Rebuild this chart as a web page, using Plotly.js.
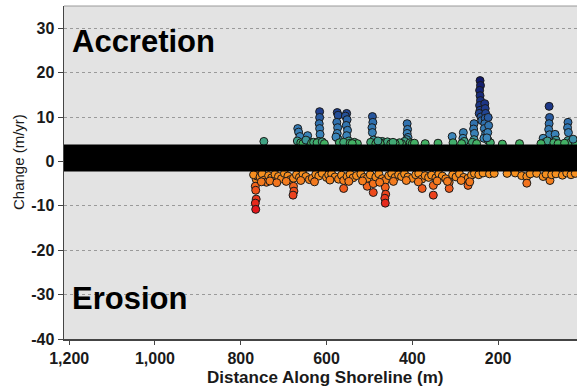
<!DOCTYPE html>
<html><head><meta charset="utf-8">
<script src="https://cdn.plot.ly/plotly-3.0.1.min.js"></script>
<style>html,body{margin:0;padding:0;background:#fff}#chart{width:577px;height:387px}</style>
</head><body><div id="chart"></div>
<script>
// Accretion (above band) points: distance (m), change (m/yr)
const upX = [746,667,665,662,668,660,655,644,640,648,635,630,
 616,616,617,616,615,618,622,610,605,
 575,573,576,574,575,572,578,570,
 553,556,552,554,551,553,548,560,545,535,528,540,
 493,492,494,493,490,497,485,470,465,458,450,475,480,
 412,411,412,410,413,418,405,400,395,425,430,440,445,370,340,
 307,305,281,282,279,285,256,257,255,256,260,250,
 242,241,243,242,241,243,242,244,240,238,
 231,230,229,230,231,232,229,233,
 223,222,224,223,218,226,
 81,80,81,82,80,95,90,85,100,67,65,70,60,
 37,38,36,37,30,45,20,25,190,150];
const upY = [4.5,7.4,6.6,5.6,4.6,4.2,4.0,5.8,4.4,4.8,4.1,4.3,
 11.2,9.9,8.5,7.4,6.1,4.5,4.2,4.4,4.0,
 11.0,10.4,8.8,7.6,6.3,4.9,5.5,4.2,
 10.8,10.2,9.4,8.1,7.0,5.8,4.6,4.3,4.1,4.3,4.0,4.0,
 10.1,8.8,7.6,6.5,4.8,4.3,4.0,4.5,4.2,4.4,4.0,4.1,4.6,
 8.5,7.2,6.3,5.4,4.9,4.5,4.2,4.0,4.1,4.0,4.2,4.0,4.3,4.0,4.1,
 5.6,4.2,6.5,5.2,4.5,4.0,8.5,7.3,6.3,4.9,4.3,4.0,
 18.2,17.1,16.0,14.8,13.7,12.6,11.5,10.8,10.0,9.2,
 13.0,11.9,10.8,9.7,8.5,7.4,6.2,5.2,
 9.9,8.1,6.5,4.7,4.2,5.3,
 12.4,9.9,8.5,7.2,6.0,5.2,4.3,4.6,4.0,6.1,4.8,4.2,4.0,
 8.8,7.6,6.5,4.7,4.3,4.1,4.2,5.0,3.9,4.0];
// Erosion (below band) points
const dnX = [765,764,766,765,764,766,765,762,
 770,755,750,745,740,735,728,720,712,705,698,690,684,677,677,676,678,670,663,655,648,640,633,625,618,610,600,595,588,580,572,565,560,560,552,545,538,530,520,512,505,505,498,491,491,485,478,470,463,463,462,464,463,455,448,440,432,425,418,410,400,392,385,377,378,370,362,351,351,355,345,338,330,322,314,314,306,298,290,280,270,270,262,255,245,235,220,209,179,160,145,133,133,125,110,95,88,79,75,65,50,40,30,20,
 752,732,716,694,660,628,592,548,516,476,444,414,386,342,318,286,266];
const dnY = [-2.7,-4.0,-5.6,-6.5,-8.5,-9.4,-10.8,-3.3,
 -3.0,-3.5,-2.8,-4.2,-4.7,-3.2,-3.7,-2.9,-3.4,-3.9,-2.7,-3.3,-4.1,-3.8,-5.6,-6.7,-7.6,-3.0,-3.6,-2.8,-3.4,-4.1,-3.8,-2.9,-3.3,-2.7,-3.6,-3.0,-2.8,-3.5,-4.0,-3.1,-4.3,-6.1,-3.4,-2.9,-3.7,-3.2,-2.8,-3.6,-3.8,-5.6,-3.0,-5.0,-7.0,-3.5,-2.8,-3.9,-4.3,-5.8,-7.4,-8.3,-9.4,-3.2,-2.7,-3.6,-3.0,-3.4,-2.8,-3.5,-3.8,-3.0,-2.7,-6.1,-4.0,-3.2,-3.6,-5.4,-7.6,-3.1,-3.7,-2.8,-3.3,-3.9,-4.7,-6.1,-3.0,-3.5,-2.8,-3.6,-3.8,-5.4,-3.1,-2.7,-3.0,-2.6,-2.8,-2.7,-2.7,-2.6,-3.2,-3.4,-4.9,-2.8,-2.7,-3.4,-2.9,-4.3,-3.0,-2.8,-3.1,-2.6,-3.0,-2.7,
 -4.6,-4.4,-4.8,-4.5,-4.3,-4.6,-4.2,-4.5,-4.4,-4.7,-4.5,-4.3,-4.6,-4.4,-4.5,-4.3,-4.6];

const xTickVals = [1200,1000,800,600,400,200];
const xTickText = ['1,200','1,000','800','600','400','200'];
const yTickVals = [30,20,10,0,-10,-20,-30,-40];
const yTickText = ['30','20','10','0','-10','-20','-30','-40'];

const allX = upX.concat(dnX);
const allY = upY.concat(dnY);

const cscale = [
 [0.0,'#e3141c'],[0.14,'#ee4a1c'],[0.25,'#f58a1e'],[0.379,'#f7a024'],
 [0.38,'#3fae62'],[0.52,'#43b163'],[0.56,'#3d88bb'],[0.69,'#2f6fad'],
 [0.76,'#1f3f8f'],[1.0,'#131b6b']];

const trace = {
 x: allX, y: allY, type:'scatter', mode:'markers', hoverinfo:'skip',
 marker:{size:8, symbol:'circle', color: allY, cmin:-11, cmax:18, colorscale: cscale,
   showscale:false, line:{width:1, color:'#1a1a1a'}}
};

const FAM = 'Liberation Sans, Arial, sans-serif';
const axFont = {family:FAM, size:16, color:'#1a1a1a', weight:'bold'};
const layout = {
 width:577, height:387,
 margin:{l:64, r:0, t:6, b:48},
 paper_bgcolor:'#ffffff', plot_bgcolor:'#e3e3e3',
 showlegend:false,
 xaxis:{range:[1212,16], tickvals:xTickVals, ticktext:xTickText,
   showgrid:false, zeroline:false, showline:true, linecolor:'#444', linewidth:1.5,
   ticks:'outside', ticklen:4, tickcolor:'#444', tickfont:axFont},
 yaxis:{range:[-40,35], tickvals:yTickVals, ticktext:yTickText,
   showgrid:true, gridcolor:'#9a9a9a', griddash:'dot', gridwidth:1,
   zeroline:false, showline:true, linecolor:'#444', linewidth:1.5,
   ticks:'outside', ticklen:5, tickcolor:'#444', tickfont:axFont},
 shapes:[
  {type:'rect', xref:'paper', yref:'y', x0:0, x1:1, y0:-2.25, y1:3.8, fillcolor:'#000', line:{width:0}, layer:'above'},
  {type:'line', xref:'paper', yref:'paper', x0:0, x1:1, y0:1, y1:1, line:{color:'#9a9a9a', width:1}}
 ],
 annotations:[
  {xref:'paper', yref:'paper', x:0.012, y:0.893, xanchor:'left', yanchor:'middle', showarrow:false,
   text:'Accretion', font:{family:FAM, size:31, color:'#000', weight:'bold'}},
  {xref:'paper', yref:'paper', x:0.012, y:0.121, xanchor:'left', yanchor:'middle', showarrow:false,
   text:'Erosion', font:{family:FAM, size:31, color:'#000', weight:'bold'}},
  {xref:'paper', yref:'paper', x:(325-64)/513, y:(339-377)/333, xanchor:'center', yanchor:'middle', showarrow:false,
   text:'Distance Along Shoreline (m)', font:{family:FAM, size:17, color:'#1a1a1a', weight:'bold'}},
  {xref:'paper', yref:'paper', x:(18-64)/513, y:(339-162)/333, xanchor:'center', yanchor:'middle', showarrow:false, textangle:-90,
   text:'Change (m/yr)', font:{family:FAM, size:15, color:'#1a1a1a'}}
 ]
};
Plotly.newPlot('chart',[trace],layout,{staticPlot:true, displayModeBar:false});
</script></body></html>
